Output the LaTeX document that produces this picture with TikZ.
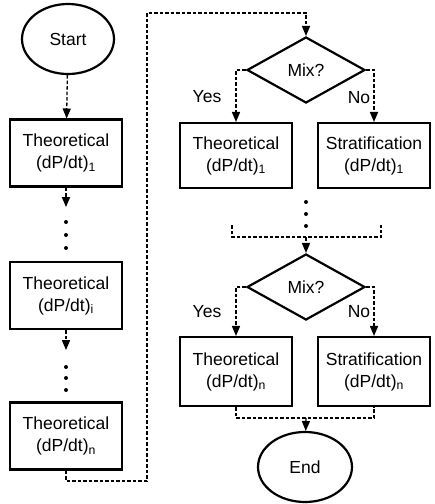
\documentclass[tikz,border=0pt]{standalone}
\usepackage{fontspec}
\setmainfont{Liberation Sans}
\usetikzlibrary{arrows,shapes.geometric}

\begin{document}
\begin{tikzpicture}[x = 1pt, y = -1pt]
\tikzstyle{BoxStyle}=[draw, line width = 2.2pt,
                      minimum width = 112pt,
                      minimum height = 67pt,
                      inner sep = 2pt, align = center,
                      font = \fontsize{17.5}{22}\selectfont]
\tikzstyle{TermStyle}=[ellipse, draw, line width = 2.2pt,
                       minimum width = 92pt,
                       minimum height = 70pt,
                       font = \fontsize{17.5}{22}\selectfont]
\tikzstyle{MixStyle}=[diamond, draw, line width = 2.2pt,
                      minimum width = 118pt,
                      minimum height = 66pt,
                      inner sep = 0pt,
                      font = \fontsize{17.5}{22}\selectfont]
\tikzstyle{LabelStyle}=[font = \fontsize{17.5}{22}\selectfont]
\tikzstyle{link}=[line width = 1.3pt, dash pattern = on 3.5pt off 2pt]
\tikzstyle{flow}=[link, -triangle 45]
\useasboundingbox (0,0) rectangle (435,504);
\node[TermStyle] (start) at (68,39) {Start};
\node[BoxStyle] (t1) at (66,153) {Theoretical\\(dP/dt)\textsubscript{1}};
\node[BoxStyle] (ti) at (66,295.5) {Theoretical\\(dP/dt)\textsubscript{i}};
\node[BoxStyle] (tn) at (66,436) {Theoretical\\(dP/dt)\textsubscript{n}};
\node[MixStyle] (mix1) at (306,70) {Mix?};
\node[BoxStyle, minimum height = 65pt] (ta1) at (236,155.5) {Theoretical\\(dP/dt)\textsubscript{1}};
\node[BoxStyle, minimum height = 65pt] (sa1) at (374,155.5) {Stratification\\(dP/dt)\textsubscript{1}};
\node[MixStyle] (mix2) at (306,287) {Mix?};
\node[BoxStyle, minimum height = 69pt] (tan) at (236,371.5) {Theoretical\\(dP/dt)\textsubscript{n}};
\node[BoxStyle, minimum height = 69pt] (san) at (374,371.5) {Stratification\\(dP/dt)\textsubscript{n}};
\node[TermStyle, minimum width = 94pt] (end) at (305,467) {End};
\node[LabelStyle] (yes1) at (207,97) {Yes};
\node[LabelStyle] (no1) at (359,98) {No};
\node[LabelStyle] (yes2) at (207,312) {Yes};
\node[LabelStyle] (no2) at (359,312) {No};
\coordinate (d1) at (66,207);
\coordinate (d2) at (66,350);
\coordinate (c1) at (147,481);
\coordinate (c2) at (147,13);
\coordinate (b1) at (232,225);
\coordinate (b2) at (381,225);
\coordinate (b3) at (306,237);
\coordinate (m) at (306,418);
\foreach \y in {222,235,248} \fill (66,\y) circle (2pt);
\foreach \y in {367,378,390} \fill (66,\y) circle (2pt);
\foreach \y in {202,214,226} \fill (306,\y) circle (2pt);
\draw[flow] (start) -- (t1);
\draw[flow] (t1) -- (d1);
\draw[flow] (ti) -- (d2);
\draw[flow] (tn.south) |- (c1) -- (c2) -| (mix1.north);
\draw[flow] (mix1.west) -| (ta1.north);
\draw[flow] (mix1.east) -| (sa1.north);
\draw[link] (b1) |- (b3) -| (b2);
\draw[flow] (b3) -- (mix2.north);
\draw[flow] (mix2.west) -| (tan.north);
\draw[flow] (mix2.east) -| (san.north);
\draw[link] (tan.south) |- (m) -| (san.south);
\draw[flow] (m) -- (end);
\end{tikzpicture}
\end{document}
